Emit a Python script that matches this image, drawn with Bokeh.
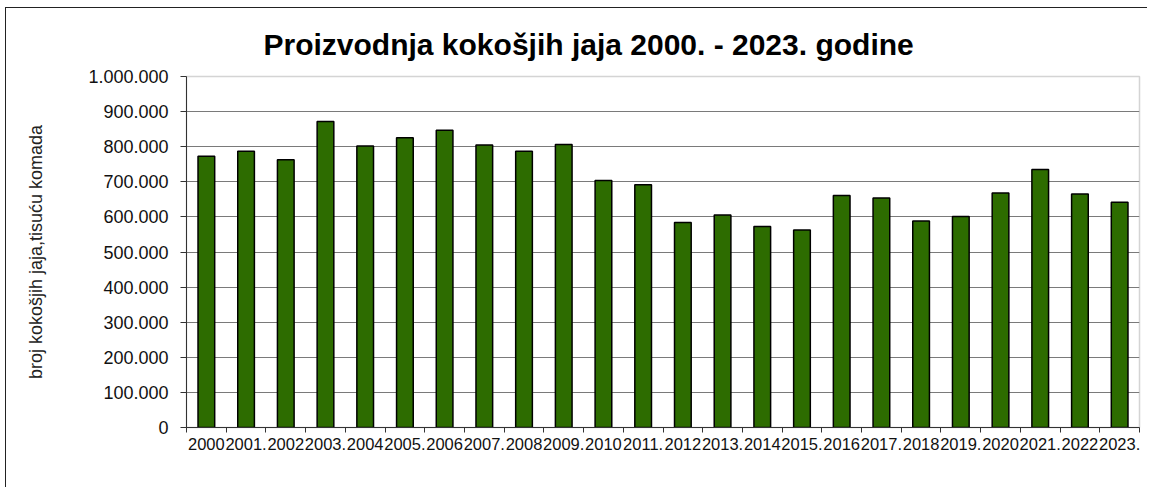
import numpy as np
from bokeh.plotting import figure
from bokeh.models import FixedTicker, Range1d, ColumnDataSource, Title
from bokeh.embed import file_html
from bokeh.resources import INLINE

years = ["2000", "2001.", "2002", "2003.", "2004", "2005.", "2006", "2007.",
         "2008", "2009.", "2010", "2011.", "2012", "2013.", "2014", "2015.",
         "2016", "2017.", "2018", "2019.", "2020", "2021.", "2022", "2023."]
production = [772500, 786700, 763000, 872000, 802000, 825600, 847000, 805000,
              787000, 806000, 704000, 691500, 584000, 605700, 572700, 563000,
              660800, 654000, 588600, 601000, 668000, 735000, 665000, 641800]
y_ticks = [0, 100000, 200000, 300000, 400000, 500000, 600000, 700000, 800000,
           900000, 1000000]
y_tick_labels = ["0", "100.000", "200.000", "300.000", "400.000", "500.000",
                 "600.000", "700.000", "800.000", "900.000", "1.000.000"]
title_text = "Proizvodnja kokošjih jaja 2000. - 2023. godine"
y_label = "broj kokošjih jaja,tisuću komada"

n = len(years)
centers = (np.arange(n) * 2 + 1).tolist()
bounds = list(range(0, 2 * n + 1, 2))

src = ColumnDataSource(dict(x=centers, top=production))

FONT = "Liberation Sans"

p = figure(width=1142, height=480, output_backend="svg", toolbar_location=None,
           x_range=Range1d(0, 2 * n), y_range=Range1d(0, 1000000),
           min_border_left=180, min_border_right=9, min_border_top=68,
           min_border_bottom=61)
p.styles = {"border-left": "1px solid #222", "border-top": "1px solid #222",
            "margin-left": "5px", "margin-top": "7px"}

t = Title(text=title_text, align="left", offset=77,
          text_font=FONT, text_font_size="30px", text_font_style="bold",
          text_color="#000000", standoff=31)
p.add_layout(t, "above")

p.vbar(x="x", top="top", width=0.84, source=src,
       fill_color="#2D6C00", line_color="#000000", line_width=1.5)

p.background_fill_color = "white"
p.border_fill_color = "white"
p.outline_line_color = "#d4d4d4"
p.outline_line_width = 1.5

# x axis
p.xaxis.ticker = FixedTicker(ticks=centers, minor_ticks=bounds)
p.xaxis.major_label_overrides = {c: lab for c, lab in zip(centers, years)}
p.xaxis.major_tick_out = 0
p.xaxis.major_tick_in = 0
p.xaxis.minor_tick_out = 5
p.xaxis.minor_tick_in = 0
p.xaxis.minor_tick_line_color = "#333333"
p.xaxis.axis_line_color = "#333333"
p.xaxis.major_label_text_font = FONT
p.xaxis.major_label_text_font_size = "16.5px"
p.xaxis.major_label_text_color = "#111111"
p.xaxis.major_label_standoff = 5
p.xgrid.visible = False

# y axis
p.yaxis.ticker = FixedTicker(ticks=y_ticks, minor_ticks=[])
p.yaxis.major_label_overrides = {v: s for v, s in zip(y_ticks, y_tick_labels)}
p.yaxis.major_tick_out = 6
p.yaxis.major_tick_in = 0
p.yaxis.major_tick_line_color = "#333333"
p.yaxis.axis_line_color = "#333333"
p.yaxis.major_label_text_font = FONT
p.yaxis.major_label_text_font_size = "18px"
p.yaxis.major_label_text_color = "#111111"
p.yaxis.major_label_standoff = 12
p.yaxis.axis_label = y_label
p.yaxis.axis_label_text_font = FONT
p.yaxis.axis_label_text_font_size = "18px"
p.yaxis.axis_label_text_font_style = "normal"
p.yaxis.axis_label_text_color = "#222222"
p.yaxis.axis_label_standoff = 39

p.ygrid.ticker = FixedTicker(ticks=y_ticks[1:-1], minor_ticks=[])
p.ygrid.grid_line_color = "#7a7a7a"
p.ygrid.grid_line_width = 1.2

open("out.html", "w").write(file_html(p, INLINE))
